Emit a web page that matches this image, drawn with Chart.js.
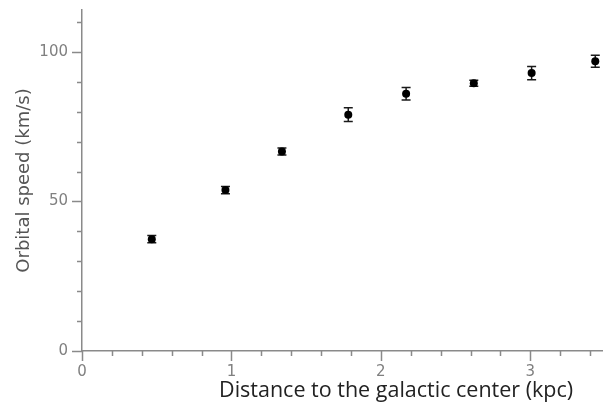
<!DOCTYPE html>
<html><head><meta charset="utf-8">
<script src="https://cdn.jsdelivr.net/npm/chart.js@4"></script>
<style>html,body{margin:0;padding:0;background:#fff}#wrap{width:606px;height:410px}</style>
</head><body><div id="wrap"><canvas id="c" width="606" height="410"></canvas></div>
<script>
// Data
const distance   = [0.467, 0.960, 1.338, 1.782, 2.169, 2.622, 3.009, 3.435];
const speed      = [37.4, 53.8, 66.7, 79.0, 86.0, 89.5, 92.9, 96.9];
const speedError = [1.2, 1.2, 1.2, 2.3, 2.1, 1.0, 2.2, 2.0];
const xTickLabels = ['0', '1', '2', '3'];
const yTickLabels = ['0', '50', '100'];
const xTitle = 'Distance to the galactic center (kpc)';
const yTitle = 'Orbital speed (km/s)';

const AXIS = '#8a8a8a';
const isLabeled = (v, list) => Math.abs(v - Math.round(v)) < 1e-6 && list.includes(String(Math.round(v)));

const errorBars = {
  id: 'errorBars',
  beforeDatasetsDraw(chart) {
    const ctx = chart.ctx, xs = chart.scales.x, ys = chart.scales.y;
    ctx.save();
    ctx.strokeStyle = '#1a1a1a';
    ctx.lineWidth = 1.5;
    distance.forEach((d, i) => {
      const px = xs.getPixelForValue(d);
      const top = ys.getPixelForValue(speed[i] + speedError[i]);
      const bot = ys.getPixelForValue(speed[i] - speedError[i]);
      ctx.beginPath();
      ctx.moveTo(px, top); ctx.lineTo(px, bot);
      ctx.moveTo(px - 4.5, top); ctx.lineTo(px + 4.5, top);
      ctx.moveTo(px - 4.5, bot); ctx.lineTo(px + 4.5, bot);
      ctx.stroke();
    });
    ctx.restore();
  }
};

const tickMarks = {
  id: 'tickMarks',
  afterDraw(chart) {
    const ctx = chart.ctx, xs = chart.scales.x, ys = chart.scales.y, ca = chart.chartArea;
    ctx.save();
    ctx.strokeStyle = AXIS;
    ctx.lineWidth = 1.5;
    ctx.beginPath();
    ys.ticks.forEach(t => {
      const p = Math.round(ys.getPixelForValue(t.value)) + 0.5;
      const len = isLabeled(t.value, yTickLabels) ? 10 : 5;
      ctx.moveTo(ys.right - len, p); ctx.lineTo(ys.right, p);
    });
    xs.ticks.forEach(t => {
      const p = Math.round(xs.getPixelForValue(t.value)) + 0.5;
      const len = isLabeled(t.value, xTickLabels) ? 10 : 5;
      ctx.moveTo(p, xs.top); ctx.lineTo(p, xs.top + len);
    });
    ctx.stroke();
    // x axis title (offset to the right as in the reference)
    ctx.fillStyle = '#222';
    ctx.font = '21.5px "Open Sans"';
    ctx.textAlign = 'center';
    ctx.textBaseline = 'alphabetic';
    ctx.fillText(xTitle, ca.left + 0.604 * (ca.right - ca.left), xs.top + 46);
    ctx.restore();
  }
};

function noPad(s) { s.paddingTop = 0; s.paddingBottom = 0; s.paddingLeft = 0; s.paddingRight = 0; }

new Chart(document.getElementById('c'), {
  type: 'scatter',
  data: {
    datasets: [{
      data: distance.map((d, i) => ({x: d, y: speed[i]})),
      pointRadius: 4,
      pointHoverRadius: 4,
      backgroundColor: '#000',
      borderColor: '#000',
      borderWidth: 0
    }]
  },
  options: {
    responsive: false,
    animation: false,
    events: [],
    layout: {padding: {top: 10, right: 2, left: 0, bottom: 0}},
    plugins: {legend: {display: false}, tooltip: {enabled: false}},
    scales: {
      x: {
        type: 'linear', min: 0, max: 3.48,
        afterFit(s) { s.height = 59; noPad(s); },
        grid: {drawOnChartArea: false, drawTicks: false},
        border: {display: true, color: AXIS, width: 1.5},
        ticks: {
          stepSize: 0.2, includeBounds: false, autoSkip: false, maxRotation: 0, padding: 12,
          color: '#808080', font: {family: 'DejaVu Sans', size: 15},
          callback: v => isLabeled(v, xTickLabels) ? String(Math.round(v)) : ''
        },
        title: {display: false}
      },
      y: {
        type: 'linear', min: 0, max: 114,
        afterFit(s) { s.width = 82; noPad(s); },
        grid: {drawOnChartArea: false, drawTicks: false},
        border: {display: true, color: AXIS, width: 1.5},
        ticks: {
          stepSize: 10, includeBounds: false, autoSkip: false, padding: 14,
          color: '#808080', font: {family: 'DejaVu Sans', size: 15},
          callback: v => isLabeled(v, yTickLabels) ? String(Math.round(v)) : ''
        },
        title: {display: true, text: yTitle, color: '#555',
          font: {family: 'DejaVu Sans', size: 18}, padding: {top: 14, bottom: 0}}
      }
    }
  },
  plugins: [errorBars, tickMarks]
});
</script></body></html>
